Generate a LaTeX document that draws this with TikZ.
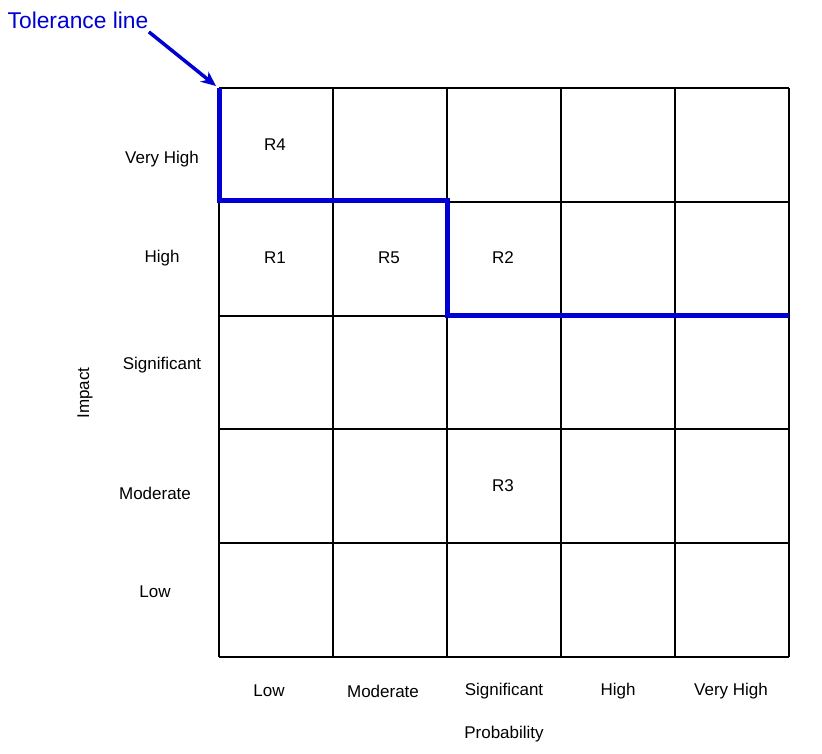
\documentclass[tikz,border=0pt]{standalone}
\usepackage{fontspec}
\setmainfont{Liberation Sans}
\usepackage{xcolor}
\usetikzlibrary{arrows.meta,positioning,calc}
\definecolor{tolblue}{RGB}{0,0,210}

\begin{document}
\begin{tikzpicture}[>=Stealth,x=1pt,y=-1pt,font=\fontsize{17}{20}\selectfont]
  \useasboundingbox (0,0) rectangle (822,754);
  % grid
  \foreach \x in {219,333,447,561,675,789}
    \draw[line width=1.1pt] (\x,88) -- (\x,657);
  \foreach \y in {88,202,316,429,543,657}
    \draw[line width=1.1pt] (219,\y) -- (789,\y);
  % impact labels
  \node (ivh) at (162,159) {Very High};
  \node (ihi) at (162,258) {High};
  \node (isi) at (162,365) {Significant};
  \node (imo) at (155,493) {Moderate};
  \node (ilo) at (155,592) {Low};
  \node[rotate=90] (imp) at (85,393) {Impact};
  % probability labels
  \node (plo) at (269,691) {Low};
  \node (pmo) at (383,691) {Moderate};
  \node (psi) at (504,691) {Significant};
  \node (phi) at (618,691) {High};
  \node (pvh) at (731,691) {Very High};
  \node (prob) at (504,734) {Probability};
  % risks
  \node (r4) at (275,145) {R4};
  \node (r1) at (275,258) {R1};
  \node (r5) at (389,258) {R5};
  \node (r2) at (503,258) {R2};
  \node (r3) at (503,486) {R3};
  % tolerance line
  \draw[tolblue,line width=5pt,line join=miter]
    (219,88) -- (219,201) -- (447,201) -- (447,315) -- (789,315);
  \node[tolblue,font=\fontsize{22.8}{26}\selectfont] (tol) at (78,20) {Tolerance line};
  \coordinate (tolend) at (216,86);
  \draw[tolblue,line width=3.5pt,-{Stealth[length=15pt,width=13pt]}] (tol.south east) ++(-3,0) -- (tolend);
\end{tikzpicture}
\end{document}
